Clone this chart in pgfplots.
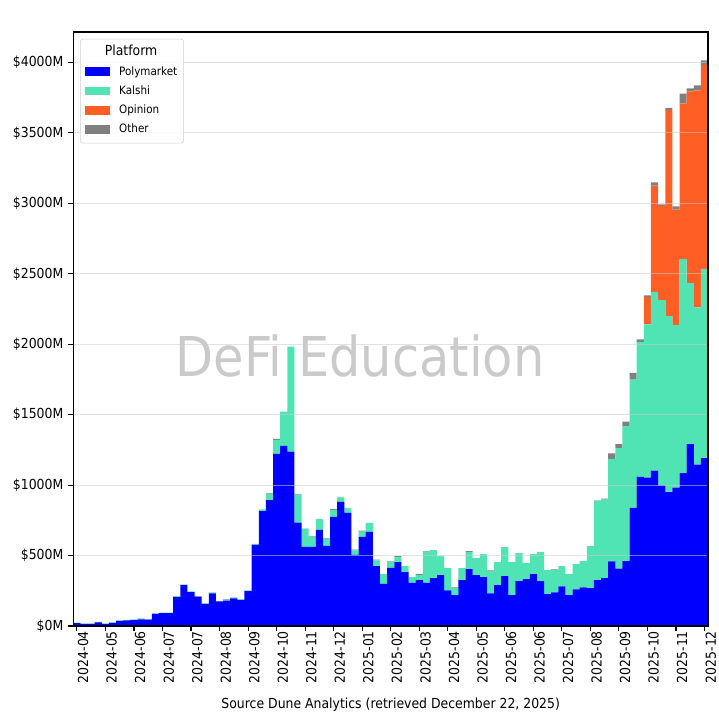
\documentclass[border=0pt]{standalone}
\usepackage{pgfplots}
\pgfplotsset{compat=1.18}
\usepackage{pgfplotstable}
\usepackage{fontspec}
\setmainfont{DejaVu Sans}[FakeStretch=0.9]
\definecolor{poly}{HTML}{0000FF}
\definecolor{kalshi}{HTML}{50E3B4}
\definecolor{opinion}{HTML}{FF5F24}
\definecolor{other}{HTML}{808080}

\pgfplotstableread{
i poly kalshi opinion other
0 20 3 0 0
1 14 2 0 0
2 14 2 0 0
3 25 4 0 0
4 14 2 0 0
5 21 4 0 0
6 36 3 0 0
7 39 3 0 0
8 41 5 0 0
9 47 6 0 0
10 45 4 0 0
11 86 3 0 0
12 91 3 0 0
13 91 3 0 0
14 205 7 0 0
15 290 5 0 0
16 240 5 0 0
17 209 3 0 0
18 157 3 0 0
19 232 6 0 0
20 175 2 0 0
21 180 3 0 6
22 196 7 0 0
23 185 4 0 0
24 247 6 0 0
25 575 7 0 0
26 815 12 0 0
27 893 45 0 3
28 1221 100 0 7
29 1278 244 0 0
30 1237 746 0 0
31 733 200 0 4
32 562 126 0 2
33 562 71 0 3
34 682 78 0 0
35 569 51 0 4
36 774 50 0 6
37 880 33 0 4
38 802 32 0 4
39 505 32 0 4
40 632 38 0 6
41 668 64 0 0
42 425 41 0 4
43 298 70 0 0
44 413 43 0 4
45 453 38 0 4
46 382 43 0 0
47 306 40 0 0
48 325 38 0 6
49 306 221 0 5
50 339 200 0 0
51 360 134 0 4
52 253 157 0 0
53 218 50 0 6
54 325 85 0 0
55 403 122 0 6
56 360 122 0 0
57 346 164 0 0
58 232 157 0 6
59 289 164 0 0
60 353 207 0 0
61 218 235 0 0
62 318 199 0 0
63 332 114 0 0
64 368 142 0 0
65 318 207 0 0
66 225 171 0 0
67 239 157 0 6
68 281 144 0 0
69 218 150 0 0
70 260 179 0 0
71 274 186 0 0
72 268 299 0 0
73 325 564 0 3
74 339 557 0 7
75 458 727 0 40
76 407 855 0 29
77 460 958 0 32
78 839 910 0 48
79 1058 958 0 19
80 1053 1088 193 13
81 1103 1268 754 24
82 998 1315 669 11
83 950 1249 1463 16
84 982 1156 818 23
85 1085 1519 1103 71
86 1291 1143 1360 22
87 1146 1116 1540 35
88 1191 1344 1447 33
}\data

\begin{document}
\begin{tikzpicture}
\useasboundingbox (0,0) rectangle (517.68bp,517.68bp);
\begin{axis}[
  at={(52.8bp,67bp)}, anchor=south west,
  width=457bp, height=427.6bp, scale only axis,
  xmin=-0.5, xmax=88.5, ymin=0, ymax=4216,
  enlargelimits=false,
  ybar stacked, bar width=1,
  axis on top,
  axis line style={black, line width=0.8bp},
  tick style={black, line width=0.8bp},
  major tick length=3.5bp,
  tick align=outside,
  xtick pos=bottom, ytick pos=left,
  xtick={0,4,...,88},
  xticklabels={2024-04,2024-05,2024-06,2024-07,2024-07,2024-08,2024-09,2024-10,2024-11,2024-12,2025-01,2025-02,2025-03,2025-04,2025-05,2025-06,2025-06,2025-07,2025-08,2025-09,2025-10,2025-11,2025-12},
  xticklabel style={rotate=90, anchor=east, font=\fontsize{10}{12}\selectfont, inner sep=0pt, xshift=0bp, yshift=-4.5bp},
  ytick={0,500,1000,1500,2000,2500,3000,3500,4000},
  yticklabels={\$0M,\$500M,\$1000M,\$1500M,\$2000M,\$2500M,\$3000M,\$3500M,\$4000M},
  yticklabel style={font=\fontsize{10}{12}\selectfont, inner sep=0pt, xshift=-3.5bp},
  ymajorgrids,
  grid style={gray!40, opacity=0.55, line width=0.8bp},
  xlabel={Source Dune Analytics (retrieved December 22, 2025)},
  xlabel style={at={(axis description cs:0.5,0)}, anchor=base, yshift=-59.1bp, font=\fontsize{10}{12}\selectfont},
  legend style={at={(rel axis cs:0.0106,0.9887)}, anchor=north west,
    draw=gray!40, rounded corners=2bp, fill=white, fill opacity=0.8, text opacity=1,
    font=\fontsize{8.33}{10}\selectfont, inner xsep=3bp, inner ysep=4bp,
    row sep=2.6bp,
    /tikz/every odd column/.append style={column sep=5.5bp},
    nodes={inner sep=1.5bp, text height=6.5bp, text depth=1.8bp}},
  legend cell align=left,
  legend image code/.code={\fill[#1, sharp corners, fill opacity=1] (0bp,-3.1bp) rectangle (18bp,3.1bp);},
]
\addlegendimage{empty legend}
\addlegendentry{\hspace*{-10.4bp}\fontsize{10}{12}\selectfont Platform}
\addplot[fill=poly, draw=none] table[x=i, y=poly] {\data};
\addlegendentry{Polymarket}
\addplot[fill=kalshi, draw=none] table[x=i, y=kalshi] {\data};
\addlegendentry{Kalshi}
\addplot[fill=opinion, draw=none] table[x=i, y=opinion] {\data};
\addlegendentry{Opinion}
\addplot[fill=other, draw=none] table[x=i, y=other] {\data};
\addlegendentry{Other}
\node[text=gray, text opacity=0.42, font=\fontsize{39.7}{46}\selectfont] at (rel axis cs:0.4517,0.455) {DeFi Education};
\node[anchor=base, font=\fontsize{12}{14}\selectfont] at (rel axis cs:0.5,1) [yshift=5bp] {Weekly Prediction Market Volume: \$4015M Total};
\end{axis}
\end{tikzpicture}
\end{document}
